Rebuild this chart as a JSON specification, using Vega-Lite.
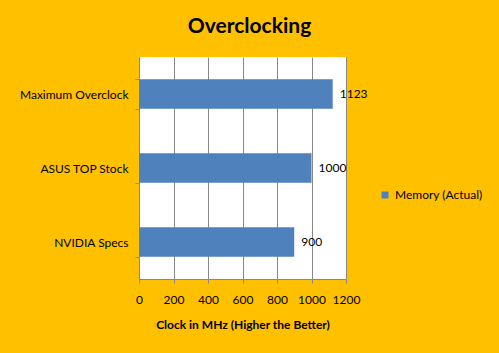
{
  "$schema": "https://vega.github.io/schema/vega-lite/v6.json",
  "width": 207,
  "height": 222,
  "autosize": {"type": "none"},
  "padding": {"left": 139, "top": 57, "right": 153, "bottom": 74},
  "background": "#FFC000",
  "title": {
    "text": "Overclocking",
    "font": "Lato",
    "fontSize": 21,
    "fontWeight": "bold",
    "color": "#000000",
    "anchor": "middle",
    "dx": 7,
    "offset": 14
  },
  "data": {
    "values": [
      {"label": "Maximum Overclock", "value": 1123, "series": "Memory (Actual)"},
      {"label": "ASUS TOP Stock", "value": 1000, "series": "Memory (Actual)"},
      {"label": "NVIDIA Specs", "value": 900, "series": "Memory (Actual)"}
    ]
  },
  "config": {
    "view": {"fill": "#FFFFFF", "stroke": null},
    "font": "Lato"
  },
  "encoding": {
    "y": {
      "field": "label",
      "type": "nominal",
      "sort": ["Maximum Overclock", "ASUS TOP Stock", "NVIDIA Specs"],
      "scale": {"paddingInner": 0.6, "paddingOuter": 0.3},
      "axis": {
        "title": null,
        "labelFont": "Lato",
        "labelFontSize": 12,
        "labelColor": "#000000",
        "labelPadding": 7,
        "tickBand": "extent",
        "tickColor": "#888888",
        "tickSize": 4,
        "domainColor": "#888888",
        "grid": false
      }
    },
    "x": {
      "field": "value",
      "type": "quantitative",
      "scale": {"domain": [0, 1200]},
      "axis": {
        "title": "Clock in MHz (Higher the Better)",
        "titleFont": "Lato",
        "titleFontSize": 12,
        "titleFontWeight": "bold",
        "titleColor": "#000000",
        "titlePadding": 14,
        "values": [0, 200, 400, 600, 800, 1000, 1200],
        "format": "d",
        "labelOverlap": false,
        "labelFlush": false,
        "labelFont": "Lato",
        "labelFontSize": 12,
        "labelColor": "#000000",
        "labelPadding": 11,
        "tickColor": "#888888",
        "tickSize": 4,
        "domainColor": "#888888",
        "grid": true,
        "gridColor": "#888888",
        "gridOpacity": 1
      }
    }
  },
  "layer": [
    {
      "mark": {"type": "bar"},
      "encoding": {
        "color": {
          "field": "series",
          "type": "nominal",
          "scale": {"range": ["#4F81BD"]},
          "legend": {
            "title": null,
            "orient": "none",
            "legendX": 240,
            "legendY": 132,
            "symbolType": "square",
            "symbolSize": 49,
            "symbolStrokeWidth": 0,
            "labelFont": "Lato",
            "labelFontSize": 12,
            "labelColor": "#000000",
            "labelOffset": 4
          }
        }
      }
    },
    {
      "mark": {"type": "text", "align": "left", "dx": 7, "font": "Lato", "fontSize": 12, "color": "#000000"},
      "encoding": {
        "text": {"field": "value", "type": "quantitative"}
      }
    }
  ]
}
